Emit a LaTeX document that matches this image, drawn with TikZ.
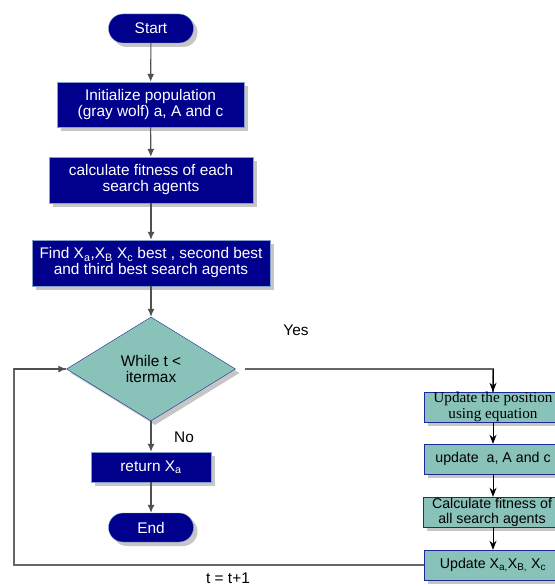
\documentclass[tikz,border=0pt]{standalone}
\usepackage{fontspec}
\setmainfont{Liberation Sans}
\newfontfamily\timesfont{Liberation Serif}
\usepackage{tikz}
\usetikzlibrary{shapes.geometric,shadows,arrows.meta,positioning}
\definecolor{navybox}{RGB}{0,0,140}
\definecolor{navyedge}{RGB}{130,160,200}
\definecolor{tealbox}{RGB}{137,194,185}
\definecolor{tealedge}{RGB}{30,40,150}
\definecolor{lineg}{RGB}{80,80,80}

\begin{document}
\begin{tikzpicture}[x=1pt, y=-1pt,
    every node/.style={font=\fontsize{15.4}{16}\selectfont},
    navyblk/.style={rectangle, draw=navyedge, fill=navybox, text=white, align=center, inner sep=0pt,
        drop shadow={shadow xshift=4pt, shadow yshift=-4pt, fill=gray!45, opacity=1}},
    terminal/.style={navyblk, rounded corners=14.5pt, minimum width=85pt, minimum height=29pt},
    tealblk/.style={rectangle, draw=tealedge, fill=tealbox, text=black, align=center, inner sep=0pt,
        minimum width=138pt, minimum height=30pt, font=\fontsize{14.2}{15}\selectfont,
        drop shadow={shadow xshift=4pt, shadow yshift=-4pt, fill=gray!45, opacity=1}},
    flow/.style={draw=lineg, line width=1.1pt, -{Latex[length=8pt,width=7pt]}},
    rflow/.style={draw=black, line width=1pt, -{Stealth[length=9pt,width=7pt]}},
    back/.style={draw=gray!80!black, line width=1.1pt}]
  \useasboundingbox (0,0) rectangle (554,586);

  \node[terminal] (start) at (151,28.5) {Start};
  \node[navyblk, minimum width=187pt, minimum height=45pt] (init) at (150.5,104.5)
      {Initialize population\\ (gray wolf) a, A and c};
  \node[navyblk, minimum width=204pt, minimum height=46pt] (fit) at (151,180)
      {calculate fitness of each\\ search agents};
  \node[navyblk, minimum width=238pt, minimum height=46pt] (best) at (151,263)
      {Find X\textsubscript{a},X\textsubscript{B} X\textsubscript{c} best , second best\\ and third best search agents};
  \node[diamond, draw=tealedge, fill=tealbox, align=center, inner sep=0pt,
      minimum width=169pt, minimum height=104pt,
      drop shadow={shadow xshift=4pt, shadow yshift=-4pt, fill=gray!45, opacity=1}] (loop) at (151,369)
      {While t <\\ itermax};
  \node[navyblk, minimum width=120pt, minimum height=30pt] (ret) at (151,467) {return X\textsubscript{a}};
  \node[terminal] (stop) at (151,527.5) {End};

  \node[tealblk, font=\timesfont\fontsize{15.2}{15.5}\selectfont] (pos) at (493,407)
      {Update the position\\ using equation};
  \node[tealblk] (coef) at (493,459) {update~~a, A and c};
  \node[tealblk] (fit2) at (492,512) {Calculate fitness of\\ all search agents};
  \node[tealblk] (upd) at (493,565) {Update X\textsubscript{a,}X\textsubscript{B,} X\textsubscript{c}};

  \node (yes) at (296,330) {Yes};
  \node (no) at (184,437) {No};
  \node (incr) at (228,578) {t = t+1};
  \coordinate (corner) at (14,565);

  \draw[flow] (start) -- (init);
  \draw[flow] (init) -- (fit);
  \draw[flow] (fit) -- (best);
  \draw[flow] (best) -- (loop);
  \draw[flow] (loop) -- (ret);
  \draw[flow] (ret) -- (stop);

  \draw[back, shorten <=9pt] (loop.east) -| (pos.north);
  \draw[rflow] (pos.north |- loop.east) -- (pos.north);
  \draw[rflow] (pos) -- (coef);
  \draw[rflow] (coef) -- (fit2.north -| coef);
  \draw[rflow] (fit2.south -| upd) -- (upd);
  \draw[back] (upd.west) -- (corner) |- (loop.west);
  \draw[flow] (corner |- loop.west) -- (loop.west);
\end{tikzpicture}
\end{document}
